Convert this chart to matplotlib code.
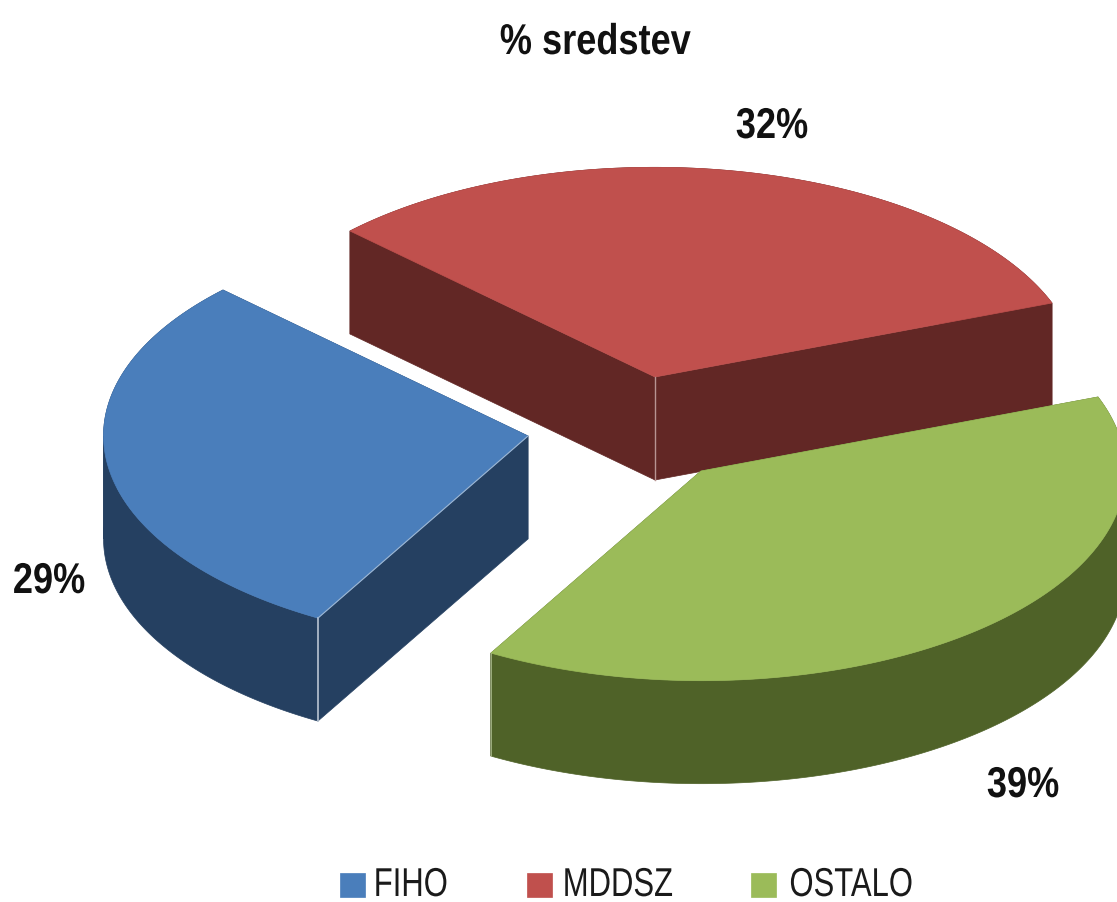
import numpy as np
import matplotlib
matplotlib.use("Agg")
import matplotlib.pyplot as plt
from matplotlib.patches import Polygon, Rectangle
from matplotlib.patheffects import AbstractPathEffect
from matplotlib.transforms import Affine2D

labels = ['FIHO', 'MDDSZ', 'OSTALO']
values = [29, 32, 39]
value_labels = ['29%', '32%', '39%']
top_colors = ['#4A7EBB', '#C0504D', '#9BBB59']
side_colors = ['#254061', '#622725', '#4F6228']

plt.rcParams['font.family'] = ['Liberation Sans', 'DejaVu Sans']

# where each slice starts, going round from the back left edge
starts = {'MDDSZ': 0, 'OSTALO': 32, 'FIHO': 71}
apex = {'FIHO': (528, 436), 'MDDSZ': (655, 377), 'OSTALO': (701, 471)}
label_pos = {'FIHO': (49, 582), 'MDDSZ': (772, 127), 'OSTALO': (1023, 786)}
legend_x = {'FIHO': 340, 'MDDSZ': 527, 'OSTALO': 751}
legend_text_x = {'FIHO': 373, 'MDDSZ': 562, 'OSTALO': 789}

# tilted pie: the two axes of the circle on screen, and the thickness
u = np.array([-305.0, -146.0])
v = np.array([295.2, -150.5])
depth = 103


class Squeeze(AbstractPathEffect):
    # the original font is narrower than anything installed
    def __init__(self, sx, left=False):
        super().__init__()
        self.sx = sx
        self.left = left

    def draw_path(self, renderer, gc, tpath, affine, rgbFace=None):
        box = tpath.transformed(affine).get_extents()
        x0 = box.x0 if self.left else (box.x0 + box.x1) / 2
        squeezed = affine + Affine2D().translate(-x0, 0).scale(self.sx, 1).translate(x0, 0)
        renderer.draw_path(gc, tpath, squeezed, rgbFace)


fig = plt.figure(figsize=(11.17, 9.02), dpi=100)
ax = fig.add_axes([0, 0, 1, 1])
ax.set_xlim(0, 1117)
ax.set_ylim(902, 0)
ax.axis('off')


def arc(name, val):
    a0 = starts[name] * 3.6
    t = np.radians(np.linspace(a0, a0 + val * 3.6, 240))
    return np.array(apex[name]) + np.outer(np.cos(t), u) + np.outer(np.sin(t), v)


down = np.array([0, depth])
for name in ['MDDSZ', 'FIHO', 'OSTALO']:
    i = labels.index(name)
    pts = arc(name, values[i])
    c = np.array(apex[name], dtype=float)
    # side walls first, the top covers what is at the back
    for p in (pts[0], pts[-1]):
        wall = [c, p, p + down, c + down]
        ax.add_patch(Polygon(wall, fc=side_colors[i], ec=side_colors[i], lw=0.5))
    # split where the arc turns back in x, or the band cancels itself out
    dx = np.sign(np.diff(pts[:, 0]))
    turns = np.where(dx[1:] != dx[:-1])[0] + 1
    bounds = [0] + list(turns) + [len(pts) - 1]
    for k0, k1 in zip(bounds[:-1], bounds[1:]):
        seg = pts[k0:k1 + 1]
        band = np.vstack([seg, (seg + down)[::-1]])
        ax.add_patch(Polygon(band, fc=side_colors[i], ec=side_colors[i], lw=0.5))
    ax.add_patch(Polygon(np.vstack([c, pts]), fc=top_colors[i], ec=top_colors[i], lw=0.5))
    # light edges on the front corners
    if name == 'FIHO':
        ax.plot([pts[0][0]] * 2, [pts[0][1], pts[0][1] + depth], color='#B8C4D2', lw=1.2)
        ax.plot([c[0], pts[0][0]], [c[1], pts[0][1]], color='#9DB6D2', lw=0.8)
    if name == 'MDDSZ':
        ax.plot([c[0]] * 2, [c[1], c[1] + depth], color='#B89492', lw=1)
    if name == 'OSTALO':
        ax.plot([pts[-1][0]] * 2, [pts[-1][1], pts[-1][1] + depth], color='#A9B98C', lw=0.6)

for name, txt in zip(labels, value_labels):
    x, y = label_pos[name]
    ax.text(x, y, txt, fontsize=31, fontweight='bold', ha='center', va='center', color='#111111',
            path_effects=[Squeeze(0.84)])

ax.text(595, 43, '% sredstev', fontsize=31, fontweight='bold', ha='center', va='center', color='#111111',
        path_effects=[Squeeze(0.84)])

for name, col in zip(labels, top_colors):
    ax.add_patch(Rectangle((legend_x[name], 873), 25, 24, fc=col, ec=col, lw=0.5))
    ax.text(legend_text_x[name], 885, name, fontsize=29, ha='left', va='center', color='#1A1A1A',
            path_effects=[Squeeze(0.77, left=True)])

fig.savefig('out.png', dpi=100)
